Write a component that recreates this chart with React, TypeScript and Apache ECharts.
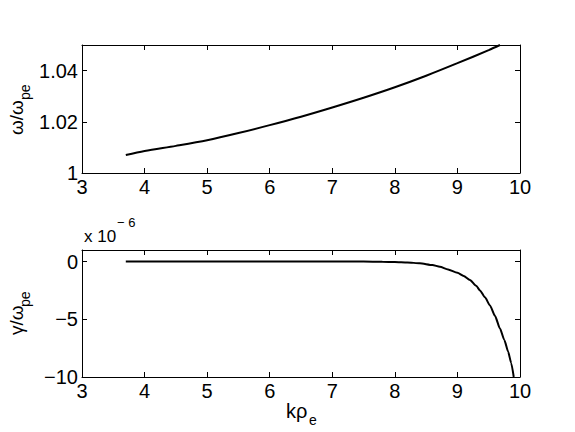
import React, { useEffect, useRef } from "react";
import * as echarts from "echarts";

// Top panel: omega / omega_pe vs k rho_e
const kTop = [3.7, 4.0, 4.5, 5.0, 5.5, 6.0, 6.5, 7.0, 7.5, 8.0, 8.5, 9.0, 9.5, 9.68];
const omegaTop = [1.007, 1.0086, 1.0106, 1.0128, 1.0156, 1.0187, 1.022, 1.0256, 1.0294, 1.0335, 1.038, 1.0429, 1.048, 1.05];

// Bottom panel: gamma / omega_pe (units of 1e-6) vs k rho_e
const kBot = [3.7, 5.0, 6.0, 7.0, 7.5, 7.8, 8.0, 8.2, 8.4, 8.6, 8.72, 8.85, 9.0, 9.1, 9.2, 9.3, 9.36, 9.44, 9.52, 9.6, 9.68, 9.75, 9.81, 9.86, 9.9];
const gammaBot = [0, 0, 0, 0, -0.005, -0.02, -0.04, -0.08, -0.15, -0.3, -0.45, -0.68, -0.97, -1.25, -1.6, -2.1, -2.5, -3.1, -3.8, -4.7, -5.8, -6.8, -7.8, -8.8, -10];

const xTicks = [3, 4, 5, 6, 7, 8, 9, 10];
const yTicksTopLabels: Record<string, string> = { "1": "1", "1.02": "1.02", "1.04": "1.04" };
const yTicksBotLabels: Record<string, string> = { "0": "0", "-5": "\u22125", "-10": "\u221210" };

const FONT = "'Liberation Sans', Arial, Helvetica, sans-serif";

export default function App() {
  const ref = useRef<HTMLDivElement>(null);
  useEffect(() => {
    if (!ref.current) return;
    const chart = echarts.init(ref.current, undefined, { renderer: "svg" });
    const black = "#000";
    const labelStyle = { color: black, fontSize: 20, fontFamily: FONT };
    const xBase = (gridIndex: number, position: "bottom" | "top", showLabels: boolean) => ({
      type: "value" as const,
      gridIndex,
      position,
      min: xTicks[0],
      max: xTicks[xTicks.length - 1],
      interval: 1,
      axisLine: { show: true, onZero: false, lineStyle: { color: black, width: 1 } },
      axisTick: { show: true, inside: true, length: 5, lineStyle: { color: black } },
      axisLabel: { show: showLabels, margin: 4, ...labelStyle, formatter: (v: number) => String(v) },
      splitLine: { show: false },
    });
    const yBase = (
      gridIndex: number,
      position: "left" | "right",
      showLabels: boolean,
      min: number,
      max: number,
      interval: number,
      fmt: (v: number) => string
    ) => ({
      type: "value" as const,
      gridIndex,
      position,
      min,
      max,
      interval,
      axisLine: { show: true, onZero: false, lineStyle: { color: black, width: 1 } },
      axisTick: { show: true, inside: true, length: 5, lineStyle: { color: black } },
      axisLabel: { show: showLabels, margin: 4, ...labelStyle, formatter: fmt, showMaxLabel: true },
      splitLine: { show: false },
    });
    const fmtTop = (v: number) => {
      const key = String(Math.round(v * 100) / 100);
      return yTicksTopLabels[key] ?? "";
    };
    const fmtBot = (v: number) => yTicksBotLabels[String(Math.round(v))] ?? "";

    chart.setOption({
      animation: false,
      backgroundColor: "#fff",
      grid: [
        { left: 82, top: 45, width: 438, height: 128, show: false },
        { left: 82, top: 250, width: 438, height: 127, show: false },
      ],
      xAxis: [
        xBase(0, "bottom", true),
        xBase(0, "top", false),
        xBase(1, "bottom", true),
        xBase(1, "top", false),
      ],
      yAxis: [
        yBase(0, "left", true, 1, 1.05, 0.02, fmtTop),
        yBase(0, "right", false, 1, 1.05, 0.02, fmtTop),
        yBase(1, "left", true, -10, 1, 5, fmtBot),
        yBase(1, "right", false, -10, 1, 5, fmtBot),
      ],
      series: [
        {
          type: "line",
          xAxisIndex: 0,
          yAxisIndex: 0,
          data: kTop.map((k, i) => [k, omegaTop[i]]),
          showSymbol: false,
          smooth: 0.3,
          lineStyle: { color: black, width: 2 },
        },
        {
          type: "line",
          xAxisIndex: 2,
          yAxisIndex: 2,
          data: kBot.map((k, i) => [k, gammaBot[i]]),
          showSymbol: false,
          smooth: 0.2,
          smoothMonotone: "x",
          lineStyle: { color: black, width: 2 },
        },
      ],
      graphic: [
        {
          type: "text",
          x: 16.5,
          y: 135,
          rotation: Math.PI / 2,
          style: { text: "\u03c9/\u03c9", font: `19px ${FONT}`, fill: black, align: "left", verticalAlign: "middle" },
        },
        {
          type: "text",
          x: 25,
          y: 100,
          rotation: Math.PI / 2,
          style: { text: "pe", font: `14px ${FONT}`, fill: black, align: "left", verticalAlign: "middle" },
        },
        {
          type: "text",
          x: 16.5,
          y: 335,
          rotation: Math.PI / 2,
          style: { text: "\u03b3/\u03c9", font: `19px ${FONT}`, fill: black, align: "left", verticalAlign: "middle" },
        },
        {
          type: "text",
          x: 25,
          y: 307,
          rotation: Math.PI / 2,
          style: { text: "pe", font: `14px ${FONT}`, fill: black, align: "left", verticalAlign: "middle" },
        },
        {
          type: "text",
          x: 286,
          y: 410.5,
          style: { text: "k\u03c1", font: `20px ${FONT}`, fill: black, align: "left", verticalAlign: "middle" },
        },
        {
          type: "text",
          x: 309,
          y: 420,
          style: { text: "e", font: `14px ${FONT}`, fill: black, align: "left", verticalAlign: "middle" },
        },
        {
          type: "text",
          x: 84,
          y: 236,
          style: { text: "x 10", font: `17px ${FONT}`, fill: black, align: "left", verticalAlign: "middle" },
        },
        {
          type: "text",
          x: 117,
          y: 222,
          style: { text: "\u2212 6", font: `13px ${FONT}`, fill: black, align: "left", verticalAlign: "middle" },
        },
      ],
    });
    return () => chart.dispose();
  }, []);
  return (
    <div
      ref={ref}
      style={{ position: "fixed", left: 0, top: 0, width: 575, height: 432, background: "#fff" }}
    />
  );
}
